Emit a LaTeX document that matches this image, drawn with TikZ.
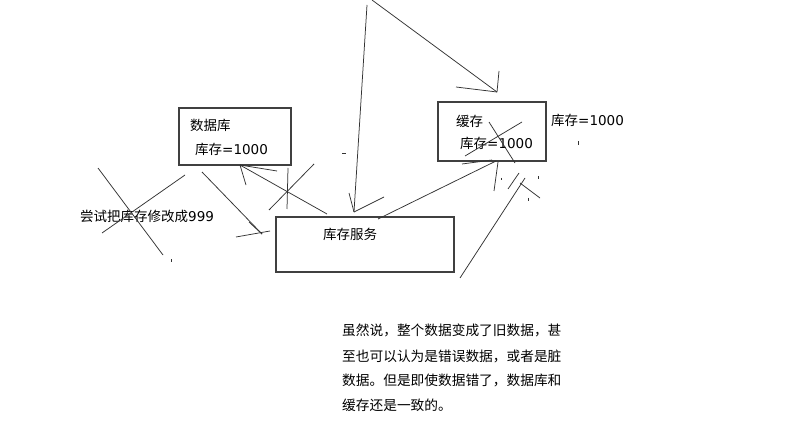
\documentclass[tikz,border=0pt]{standalone}
\usepackage{fontspec}
\newfontfamily\cjk{Noto Sans CJK SC}
\newfontfamily\lat{DejaVu Sans}
\begin{document}
\begin{tikzpicture}[x=1pt,y=-1pt,
  box/.style={draw=black!75,line width=1.1pt},
  stroke/.style={draw=black!80,line width=0.75pt},
  lbl/.style={inner sep=0pt,anchor=west,font=\cjk\fontsize{13.5}{16}\selectfont},
  para/.style={inner sep=0pt,anchor=west,font=\cjk\fontsize{13.7}{16}\selectfont}]
\useasboundingbox[fill=white] (0,0) rectangle (791,430);

% three boxes
\draw[box] (179,108) rectangle (291,165);
\draw[box] (438,102) rectangle (546,161);
\draw[box] (276,217) rectangle (454,272);

% texts
\node[lbl] (dbname) at (190,125) {数据库};
\node[lbl] (dbval) at (195,149) {库存{\lat =1000}};
\node[lbl] (cname) at (456,121) {缓存};
\node[lbl] (cval) at (460,143) {库存{\lat =1000}};
\node[lbl] (cout) at (551,120) {库存{\lat =1000}};
\node[lbl] (svc) at (323,234) {库存服务};
\node[lbl] (try) at (80,216) {尝试把库存修改成{\lat 999}};
\node[para] (p1) at (342,330) {虽然说，整个数据变成了旧数据，甚};
\node[para] (p2) at (342,356) {至也可以认为是错误数据，或者是脏};
\node[para] (p3) at (342,380) {数据。但是即使数据错了，数据库和};
\node[para] (p4) at (342,405) {缓存还是一致的。};

% named points of the strokes
\coordinate (dbfoot) at (240,165);
\coordinate (tipA) at (262,234);
\coordinate (tipB) at (354,212);
\coordinate (tipC) at (497,92);
\coordinate (cfoot) at (496,161);

% crossed-out arrow on the left
\draw[stroke] (98,168) -- (163,255);
\draw[stroke] (185,175) -- (102,233);
\draw[stroke] (171.7,259) -- (171.7,261.5);

% arrow from the database to the service
\draw[stroke] (202,172) -- (tipA);
\draw[stroke] (249,222) -- (tipA);
\draw[stroke] (236,237) -- (270,231);

% arrow from the service up to the database, crossed out
\draw[stroke] (dbfoot) -- (277,171);
\draw[stroke] (dbfoot) -- (246,185);
\draw[stroke] (dbfoot) -- (327,214);
\draw[stroke] (288,168) -- (287,209);
\draw[stroke] (314,164) -- (269,210);

% long arrows from the top
\draw[stroke] (367,5) -- (tipB);
\draw[stroke] (349,193) -- (tipB);
\draw[stroke] (384,197) -- (tipB);
\draw[stroke] (372,0) -- (tipC);
\draw[stroke] (456,87) -- (tipC);
\draw[stroke] (499,71) -- (tipC);
\draw[stroke] (342,153) -- (345.5,153);

% arrow from the service to the cache
\draw[stroke] (378,219) -- (cfoot);
\draw[stroke] (462,164) -- (492,160);

% cache value crossed out and further marks
\draw[stroke] (489,122) -- (515,163);
\draw[stroke] (522,122) -- (465,156);
\draw[stroke] (498,162) -- (494,191);
\draw[stroke] (501,178) -- (501,180.5);
\draw[stroke] (508,189) -- (519,173);
\draw[stroke] (460,278) -- (525,178);
\draw[stroke] (520,183) -- (540,198);
\draw[stroke] (538,176.5) -- (538,179);
\draw[stroke] (528,198) -- (528,201.5);
\draw[stroke] (578,141.5) -- (578,145);
\end{tikzpicture}
\end{document}
